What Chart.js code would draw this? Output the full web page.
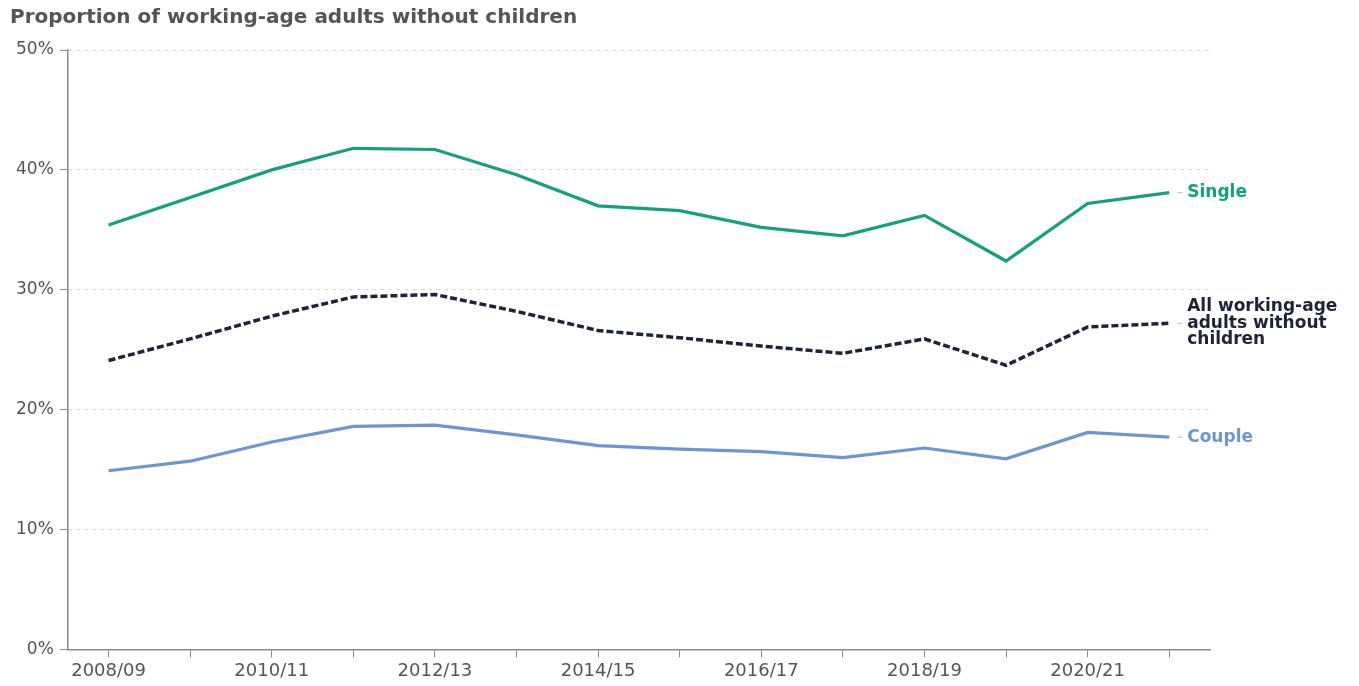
<!DOCTYPE html>
<html>
<head>
<meta charset="utf-8">
<script src="https://cdn.jsdelivr.net/npm/chart.js@4"></script>
<style>
  html, body { margin: 0; padding: 0; background: #fff; }
  #wrap { width: 1359px; height: 686px; }
</style>
</head>
<body>
<div id="wrap"><canvas id="chart"></canvas></div>
<script>
const years = ['2008/09', '2009/10', '2010/11', '2011/12', '2012/13', '2013/14', '2014/15',
    '2015/16', '2016/17', '2017/18', '2018/19', '2019/20', '2020/21', '2021/22'];
const single = [35.4, 37.7, 40.0, 41.8, 41.7, 39.6, 37.0, 36.6, 35.2, 34.5, 36.2, 32.4, 37.2, 38.1];
const allAdults = [24.1, 25.9, 27.8, 29.4, 29.6, 28.2, 26.6, 26.0, 25.3, 24.7, 25.9, 23.7, 26.9, 27.2];
const couple = [14.9, 15.7, 17.3, 18.6, 18.7, 17.9, 17.0, 16.7, 16.5, 16.0, 16.8, 15.9, 18.1, 17.7];
const endLabels = [['Single'], ['All working-age', 'adults without', 'children'], ['Couple']];

const fontFam = '"DejaVu Sans", sans-serif';
const colours = ['#13a07f', '#1d2438', '#6f95d0'];

// labels at the right end of each line
const endLabelPlugin = {
    id: 'endLabels',
    afterDatasetsDraw(chart) {
        const ctx = chart.ctx;
        const xScale = chart.scales.x;
        const yScale = chart.scales.y;
        chart.data.datasets.forEach((ds, i) => {
            const last = ds.data.length - 1;
            const x = xScale.getPixelForValue(last);
            const y = yScale.getPixelForValue(ds.data[last]);
            const lines = endLabels[i];
            ctx.save();
            ctx.strokeStyle = '#bbb';
            ctx.lineWidth = 1;
            ctx.beginPath();
            ctx.moveTo(x + 8, y);
            ctx.lineTo(x + 13, y);
            ctx.stroke();
            ctx.fillStyle = colours[i];
            ctx.font = 'bold 17px ' + fontFam;
            ctx.textBaseline = 'middle';
            const lh = 16.5;
            const top = y - (lines.length - 1) * lh / 2;
            lines.forEach((t, k) => ctx.fillText(t, x + 18, top + k * lh));
            ctx.restore();
        });
    }
};

new Chart(document.getElementById('chart'), {
    type: 'line',
    data: {
        labels: years,
        datasets: [
            { label: 'Single', data: single, borderColor: colours[0], borderWidth: 3.2, pointRadius: 0, tension: 0 },
            { label: 'All working-age adults without children', data: allAdults, borderColor: colours[1], borderWidth: 3.5, borderDash: [7, 3], pointRadius: 0, tension: 0 },
            { label: 'Couple', data: couple, borderColor: colours[2], borderWidth: 3.2, pointRadius: 0, tension: 0 }
        ]
    },
    options: {
        responsive: true,
        maintainAspectRatio: false,
        animation: false,
        layout: { padding: { left: 10, right: 149, top: 6, bottom: 1 } },
        plugins: {
            legend: { display: false },
            tooltip: { enabled: false },
            title: {
                display: true,
                text: 'Proportion of working-age adults without children',
                align: 'start',
                color: '#555',
                font: { family: fontFam, size: 20, weight: 'bold' },
                padding: { top: 0, bottom: 20 }
            }
        },
        scales: {
            x: {
                offset: true,
                grid: { drawOnChartArea: false, drawTicks: true, tickLength: 8, tickColor: '#888', offset: false },
                border: { color: '#888', width: 1.5 },
                ticks: {
                    autoSkip: false,
                    maxRotation: 0,
                    padding: 3,
                    color: '#555',
                    font: { family: fontFam, size: 18 },
                    callback: (v, i) => i % 2 === 0 ? years[i] : ''
                }
            },
            y: {
                min: 0,
                max: 50,
                grid: { color: '#d6d6d6', tickColor: '#888', tickLength: 8, tickBorderDash: [] },
                border: { color: '#888', width: 1.5, dash: [4, 4] },
                ticks: {
                    stepSize: 10,
                    padding: 6,
                    color: '#555',
                    font: { family: fontFam, size: 17 },
                    callback: v => v + '%'
                }
            }
        }
    },
    plugins: [endLabelPlugin]
});
</script>
</body>
</html>
